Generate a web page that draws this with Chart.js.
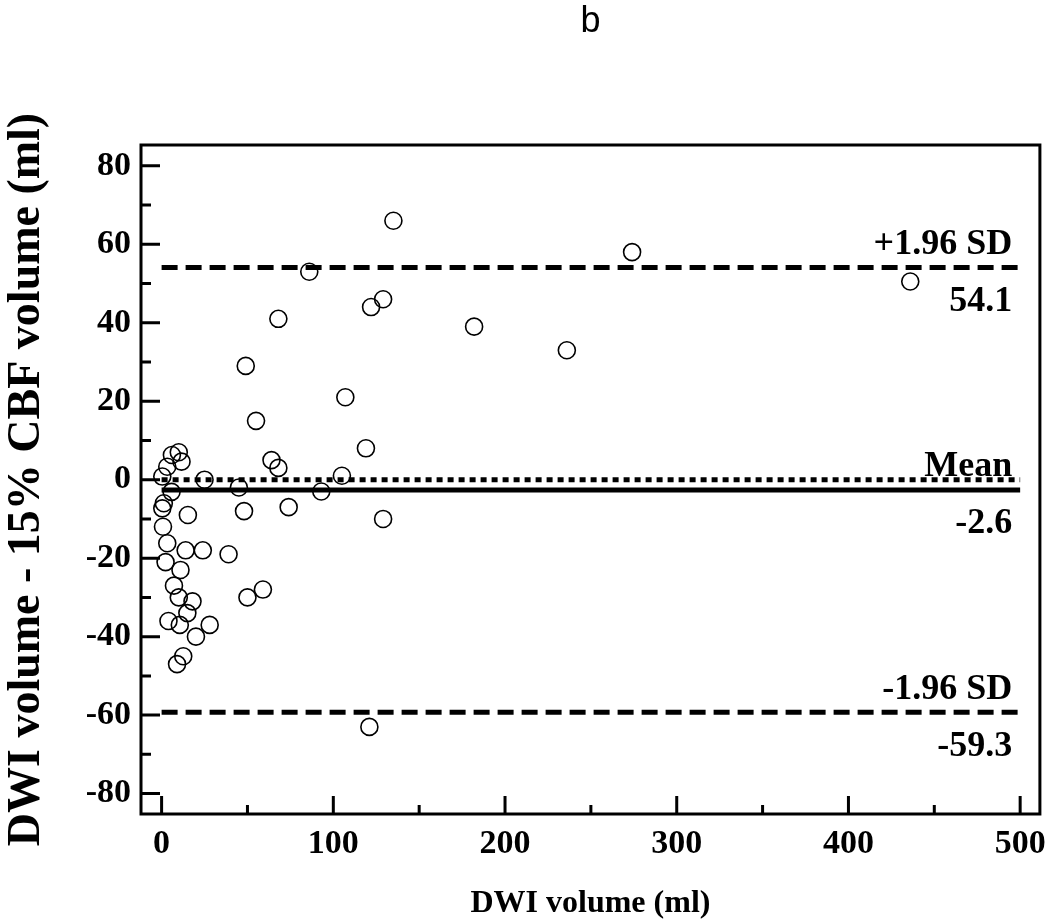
<!DOCTYPE html>
<html>
<head>
<meta charset="utf-8">
<script src="https://cdn.jsdelivr.net/npm/chart.js@4.4.1/dist/chart.umd.min.js"></script>
<style>
  html, body { margin: 0; padding: 0; background: #fff; }
  canvas { display: block; }
</style>
</head>
<body>
<canvas id="grafica" width="1050" height="923"></canvas>
<script>
// Bland-Altman: DWI volume vs (DWI - 15% CBF volume)
const dwiVolume = [
    135, 274, 86, 436, 68, 122, 129, 182, 236, 49,
    107, 55, 119, 64, 68, 105, 93, 74, 129, 48,
    121, 45, 25, 50, 59, 39, 24,
    10, 6, 11.6, 3.3, 0.4, 5.8, 1.3, 0.4, 15.3, 0.8,
    3.3, 14, 2.3, 11, 7.2, 10, 18, 15, 4, 28,
    10.6, 20, 12.6, 9
];
const volumeDiff = [
    66, 58, 53, 50.5, 41, 44, 46, 39, 33, 29,
    21, 15, 8, 5, 3, 1, -3, -7, -10, -8,
    -63, -2, 0, -30, -28, -19, -18,
    7, 6.3, 4.6, 3.3, 0.8, -3.1, -6, -7.3, -9, -12,
    -16.2, -18, -21, -23, -27, -30, -31, -34, -36, -37,
    -37, -40, -45, -47
];

const lineRange = [0, 500];
const meanDiff = -2.6;
const upperLimit = 54.1;
const lowerLimit = -59.3;
const zeroLine = 0;

const refLabels = [
    { value: upperLimit, above: "+1.96 SD", below: "54.1" },
    { value: meanDiff, above: "Mean", below: "-2.6" },
    { value: lowerLimit, above: "-1.96 SD", below: "-59.3" }
];

const serif = "'Liberation Serif', 'Times New Roman', serif";

function horizontal(y) {
    return lineRange.map((x) => ({ x: x, y: y }));
}

const marcoYMarcas = {
    id: "marcoYMarcas",
    afterDatasetsDraw(chart) {
        const { ctx, chartArea, scales } = chart;
        const xs = scales.x, ys = scales.y;
        ctx.save();
        ctx.strokeStyle = "#000";
        ctx.lineWidth = 3;
        ctx.strokeRect(chartArea.left, chartArea.top,
            chartArea.right - chartArea.left, chartArea.bottom - chartArea.top);

        // inward ticks, major and minor
        ctx.beginPath();
        xs.ticks.forEach((t, i) => {
            const px = xs.getPixelForValue(t.value);
            ctx.moveTo(px, chartArea.bottom);
            ctx.lineTo(px, chartArea.bottom - 18);
            if (i < xs.ticks.length - 1) {
                const mx = xs.getPixelForValue((t.value + xs.ticks[i + 1].value) / 2);
                ctx.moveTo(mx, chartArea.bottom);
                ctx.lineTo(mx, chartArea.bottom - 9);
            }
        });
        ys.ticks.forEach((t, i) => {
            const py = ys.getPixelForValue(t.value);
            ctx.moveTo(chartArea.left, py);
            ctx.lineTo(chartArea.left + 19, py);
            if (i < ys.ticks.length - 1) {
                const my = ys.getPixelForValue((t.value + ys.ticks[i + 1].value) / 2);
                ctx.moveTo(chartArea.left, my);
                ctx.lineTo(chartArea.left + 10, my);
            }
        });
        ctx.stroke();

        // reference line labels
        ctx.fillStyle = "#000";
        ctx.font = "bold 36px " + serif;
        ctx.textAlign = "right";
        ctx.textBaseline = "middle";
        const tx = xs.getPixelForValue(lineRange[1]) - 8;
        refLabels.forEach((r) => {
            const py = ys.getPixelForValue(r.value);
            ctx.fillText(r.above, tx, py - 23);
            ctx.fillText(r.below, tx, py + 34);
        });
        ctx.restore();
    }
};

const lineaRef = (data, dash, width) => ({
    type: "line",
    data: data,
    borderColor: "#000",
    borderWidth: width,
    borderDash: dash,
    borderCapStyle: "butt",
    pointRadius: 0,
    fill: false,
    order: 0
});

const ctx = document.getElementById("grafica").getContext("2d");
const grafica = new Chart(ctx, {
    type: "scatter",
    data: {
        datasets: [
            {
                data: dwiVolume.map((x, i) => ({ x: x, y: volumeDiff[i] })),
                pointRadius: 8.5,
                pointBorderWidth: 1.6,
                pointBorderColor: "#000",
                pointBackgroundColor: "rgba(0,0,0,0)",
                order: 1
            },
            lineaRef(horizontal(upperLimit), [16, 8], 5),
            lineaRef(horizontal(lowerLimit), [16, 8], 5),
            lineaRef(horizontal(zeroLine), [6, 5], 5),
            lineaRef(horizontal(meanDiff), [], 5)
        ]
    },
    options: {
        responsive: false,
        animation: false,
        devicePixelRatio: 1,
        layout: { padding: { left: 0, right: 9, top: 0, bottom: 0 } },
        plugins: {
            legend: { display: false },
            tooltip: { enabled: false },
            title: {
                display: true,
                fullSize: false,
                text: "b",
                color: "#000",
                font: { family: "'Liberation Sans', Arial, sans-serif", size: 36, weight: "normal" },
                padding: { top: 0, bottom: 101.8 }
            }
        },
        scales: {
            x: {
                type: "linear",
                min: -12,
                max: 511.5,
                grid: { display: false, drawTicks: false },
                border: { display: false },
                ticks: {
                    stepSize: 100,
                    includeBounds: false,
                    color: "#000",
                    padding: 10,
                    font: { family: serif, size: 34, weight: "bold" }
                },
                title: {
                    display: true,
                    text: "DWI volume (ml)",
                    color: "#000",
                    font: { family: serif, size: 32, weight: "bold" },
                    padding: { top: 0, bottom: 0 }
                },
                afterFit: (scale) => {
                    scale.height = 109;
                    scale.paddingLeft = 0;
                    scale.paddingRight = 0;
                }
            },
            y: {
                type: "linear",
                min: -85.2,
                max: 85.3,
                grid: { display: false, drawTicks: false },
                border: { display: false },
                ticks: {
                    stepSize: 20,
                    includeBounds: false,
                    color: "#000",
                    padding: 10,
                    font: { family: serif, size: 34, weight: "bold" }
                },
                title: {
                    display: true,
                    text: "DWI volume - 15% CBF volume (ml)",
                    color: "#000",
                    font: { family: serif, size: 46, weight: "bold" },
                    padding: { top: 0, bottom: 0 }
                },
                afterFit: (scale) => {
                    scale.width = 141;
                    scale.paddingTop = 0;
                    scale.paddingBottom = 0;
                }
            }
        }
    },
    plugins: [marcoYMarcas]
});
</script>
</body>
</html>
